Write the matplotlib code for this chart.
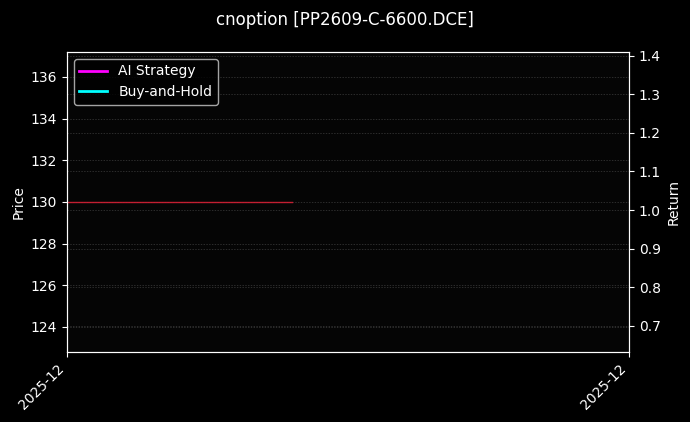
import matplotlib
matplotlib.use("Agg")
import matplotlib.pyplot as plt
import matplotlib.dates as mdates
import pandas as pd

# data
price_dates = pd.to_datetime(["2025-12-01", "2025-12-02", "2025-12-03", "2025-12-04", "2025-12-05"])
prices = [130.0, 130.0, 130.0, 130.0, 130.0]

return_dates = pd.to_datetime(["2025-12-01"])
ai_returns = [1.0]
bh_returns = [1.0]

x_start = pd.Timestamp("2025-12-01")
x_end = pd.Timestamp("2025-12-11")
price_lim = (122.8, 137.2)
return_lim = (0.632, 1.41)

plt.rcParams["font.family"] = ["DejaVu Sans"]

fig = plt.figure(figsize=(6.9, 4.22), dpi=100, facecolor="black")
ax = fig.add_axes([0.097, 0.166, 0.8146, 0.711])
ax.set_facecolor("#050505")
ax2 = ax.twinx()

ax.plot(price_dates, prices, color="#d62035", linewidth=1.0, alpha=0.9)
ax2.plot(return_dates, ai_returns, color="magenta", linewidth=2, label="AI Strategy")
ax2.plot(return_dates, bh_returns, color="cyan", linewidth=2, label="Buy-and-Hold")

ax.set_xlim(x_start, x_end)
ax.set_ylim(*price_lim)
ax2.set_ylim(*return_lim)
ax.set_xticks([x_start, x_end])
ax.xaxis.set_major_formatter(mdates.DateFormatter("%Y-%m"))
plt.setp(ax.get_xticklabels(), rotation=45, ha="right")

ax.set_ylabel("Price", color="white")
ax2.set_ylabel("Return", color="white")

for a in (ax, ax2):
    a.tick_params(colors="white", labelsize=10)
    for s in a.spines.values():
        s.set_color("white")
    a.grid(True, axis="y", color="gray", linestyle=(0, (2, 2)), linewidth=0.5, alpha=0.45)

leg = ax2.legend(loc="upper left", facecolor="black", edgecolor="#cccccc", fontsize=10)
for t in leg.get_texts():
    t.set_color("white")

fig.suptitle("cnoption [PP2609-C-6600.DCE]", color="white", fontsize=12, y=0.975)

fig.savefig("out.png", dpi=100, facecolor="black")
